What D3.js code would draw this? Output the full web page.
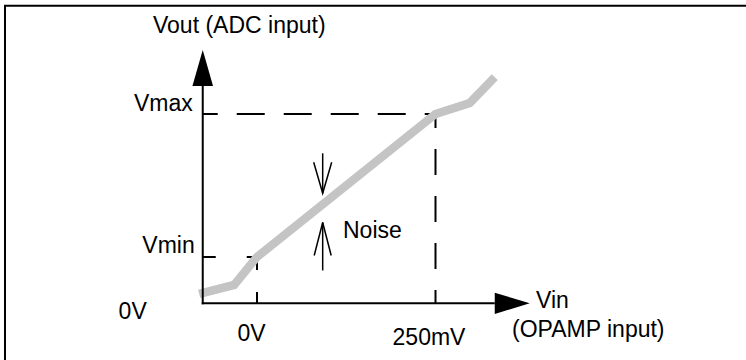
<!DOCTYPE html>
<html>
<head>
<meta charset="utf-8">
<script src="https://cdn.jsdelivr.net/npm/d3@7"></script>
<style>
  html, body { margin: 0; padding: 0; background: #fff; }
  svg { display: block; }
  text { font-family: "Liberation Sans", Arial, Helvetica, sans-serif; font-size: 23px; fill: #000; }
</style>
</head>
<body>
<svg id="chart" width="746" height="360"></svg>
<script>
// ---- data ----
const curveX = [-81, -32, 0, 250, 298, 333];        // Vin (mV)
const curveY = [0.05, 0.097, 0.245, 1.0, 1.058, 1.195]; // Vout (fraction of Vmax)
const xTicks = [0, 250];
const xTickLabels = ["0V", "250mV"];
const yLevels = [0, 0.245, 1];
const yLabels = ["0V", "Vmin", "Vmax"];
const xAxisExtent = [-76, 382];
const yAxisExtent = [0, 1.338];
const noiseX = 92;
const noiseBand = [0.427, 0.581];
const titles = { y: "Vout (ADC input)", x1: "Vin", x2: "(OPAMP input)", noise: "Noise" };

// ---- scales ----
const x = d3.scaleLinear().domain([0, 250]).range([257, 435.5]);
const y = d3.scaleLinear().domain([0, 1]).range([303.3, 114]);

const svg = d3.select("#chart");

// frame (top and left)
svg.append("path").attr("d", "M5,360V5.7H746").attr("fill", "none")
  .attr("stroke", "#000").attr("stroke-width", 2);

// dashed guides
const g = svg.append("g").attr("stroke", "#000").attr("stroke-width", 2).attr("fill", "none");
const x0 = x(xAxisExtent[0]);
g.append("line").attr("x1", x0).attr("x2", x(xTicks[1])).attr("y1", y(yLevels[2])).attr("y2", y(yLevels[2]))
  .attr("stroke-dasharray", "28 19").attr("stroke-dashoffset", -0).attr("stroke-dashoffset", 13);
g.append("line").attr("x1", x(xTicks[1])).attr("x2", x(xTicks[1])).attr("y1", y(yLevels[2])).attr("y2", y(0))
  .attr("stroke-dasharray", "26 21").attr("stroke-dashoffset", 12);
g.append("line").attr("x1", x0).attr("x2", x(xTicks[0])).attr("y1", y(yLevels[1])).attr("y2", y(yLevels[1]))
  .attr("stroke-dasharray", "13 31 20");
g.append("line").attr("x1", x(xTicks[0])).attr("x2", x(xTicks[0])).attr("y1", y(yLevels[1]) - 1).attr("y2", y(0))
  .attr("stroke-dasharray", "14 22 20");

// curve
const pts = curveX.map((v, i) => [v, curveY[i]]);
svg.append("path").datum(pts)
  .attr("d", d3.line().x(d => x(d[0])).y(d => y(d[1])))
  .attr("fill", "none").attr("stroke", "#c4c4c4").attr("stroke-width", 8.5)
  .attr("stroke-linejoin", "miter").attr("stroke-linecap", "butt");

// axes
const ax = svg.append("g");
const yTop = y(yAxisExtent[1]);
const xRight = x(xAxisExtent[1]);
ax.append("line").attr("x1", x0).attr("x2", x0).attr("y1", yTop + 36).attr("y2", y(0) + 1)
  .attr("stroke", "#000").attr("stroke-width", 2);
ax.append("path").attr("d", `M${x0},${yTop}L${x0 - 10.3},${yTop + 36}L${x0 + 10.3},${yTop + 36}Z`).attr("fill", "#000");
ax.append("line").attr("x1", x0 - 1).attr("x2", xRight - 35).attr("y1", y(0)).attr("y2", y(0))
  .attr("stroke", "#000").attr("stroke-width", 2);
ax.append("path").attr("d", `M${xRight},${y(0)}L${xRight - 35},${y(0) - 10.6}L${xRight - 35},${y(0) + 10.6}Z`).attr("fill", "#000");

// noise arrows
const nx = x(noiseX);
const na = svg.append("g").attr("stroke", "#000").attr("stroke-width", 1.5).attr("fill", "none");
const tTop = y(noiseBand[1]), tBot = y(noiseBand[0]);
na.append("line").attr("x1", nx).attr("x2", nx).attr("y1", tTop - 40).attr("y2", tTop);
na.append("path").attr("d", `M${nx - 9},${tTop - 31}L${nx},${tTop}L${nx + 9},${tTop - 31}`);
na.append("line").attr("x1", nx).attr("x2", nx).attr("y1", tBot).attr("y2", tBot + 48);
na.append("path").attr("d", `M${nx - 8.5},${tBot + 33}L${nx},${tBot}L${nx + 8.5},${tBot + 33}`);

// text
svg.append("text").attr("x", 153).attr("y", 32.7).text(titles.y);
svg.append("text").attr("x", x0 - 10).attr("y", y(yLevels[2]) - 3).attr("text-anchor", "end").text(yLabels[2]);
svg.append("text").attr("x", x0 - 8).attr("y", y(yLevels[1]) - 4).attr("text-anchor", "end").text(yLabels[1]);
svg.append("text").attr("x", x0 - 56).attr("y", y(yLevels[0]) + 16).attr("text-anchor", "end").text(yLabels[0]);
svg.append("text").attr("x", x(xTicks[0]) - 5.5).attr("y", 341).attr("text-anchor", "middle").text(xTickLabels[0]);
svg.append("text").attr("x", x(xTicks[1]) - 6.5).attr("y", 345).attr("text-anchor", "middle").text(xTickLabels[1]);
svg.append("text").attr("x", 536).attr("y", 308).text(titles.x1);
svg.append("text").attr("x", 512).attr("y", 337).text(titles.x2);
svg.append("text").attr("x", 343).attr("y", 238.3).text(titles.noise);
</script>
</body>
</html>
